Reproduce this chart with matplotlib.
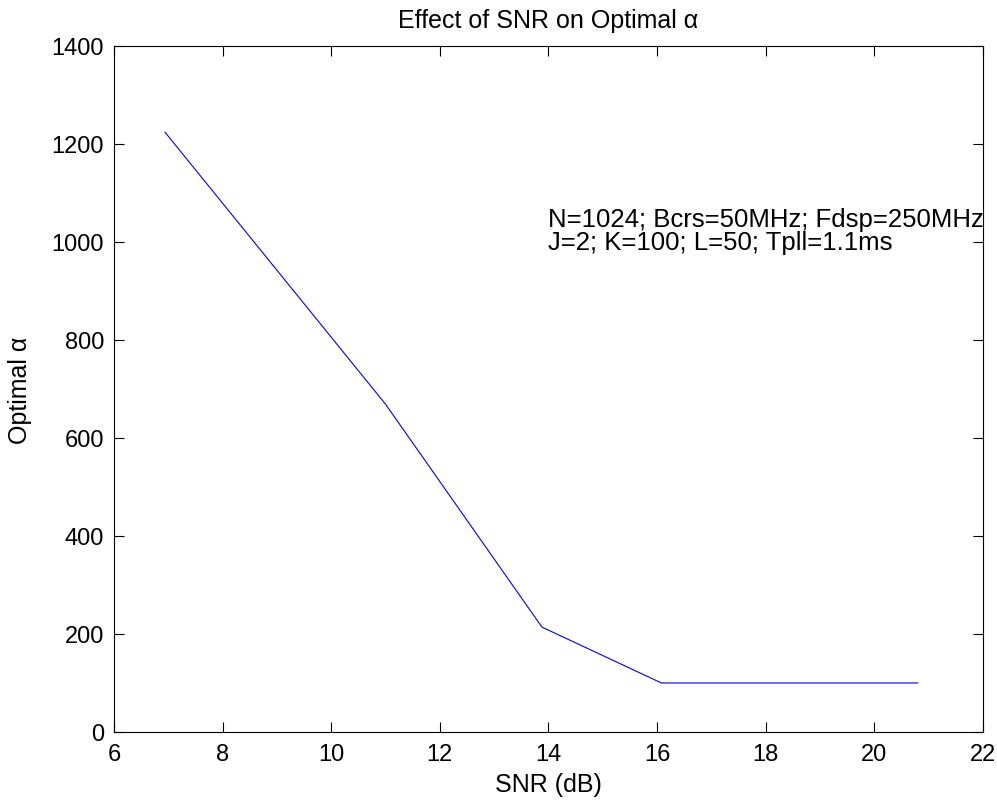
import matplotlib
matplotlib.use("Agg")
import matplotlib.pyplot as plt

# values
snr_db = [6.94, 11.0, 13.88, 16.08, 20.8]
opt_alpha = [1224, 669, 214, 100, 100]
x_ticks = [6, 8, 10, 12, 14, 16, 18, 20, 22]
y_ticks = [0, 200, 400, 600, 800, 1000, 1200, 1400]
note_lines = ["N=1024; Bcrs=50MHz; Fdsp=250MHz", "J=2; K=100; L=50; Tpll=1.1ms"]
note_x = 14.0
note_y = [1033, 986]

plt.rcParams['font.family'] = ['Liberation Sans', 'DejaVu Sans']

fig = plt.figure(figsize=(9.97, 8.03), dpi=100)
ax = fig.add_axes([0.1143, 0.0872, 0.8716, 0.8543])

ax.plot(snr_db, opt_alpha, color='blue', linewidth=0.8)

ax.set_xlim(6, 22)
ax.set_ylim(0, 1400)
ax.set_xticks(x_ticks)
ax.set_yticks(y_ticks)
ax.tick_params(direction='in', length=7, width=0.8, labelsize=17,
               top=True, right=True)
ax.tick_params(axis='x', pad=8)
ax.tick_params(axis='y', pad=7)
for s in ax.spines.values():
    s.set_linewidth(0.8)

ax.set_xlabel("SNR (dB)", fontsize=18)
ax.xaxis.set_label_coords(0.5, -0.058)
ax.set_ylabel("Optimal α", fontsize=18)
ax.yaxis.set_label_coords(-0.094, 0.5)
ax.set_title("Effect of SNR on Optimal α", fontsize=18, pad=14)

# annotation, one line each
for line, yy in zip(note_lines, note_y):
    ax.text(note_x, yy, line, fontsize=18.5, va='baseline', ha='left')

fig.savefig("out.png", dpi=100)
